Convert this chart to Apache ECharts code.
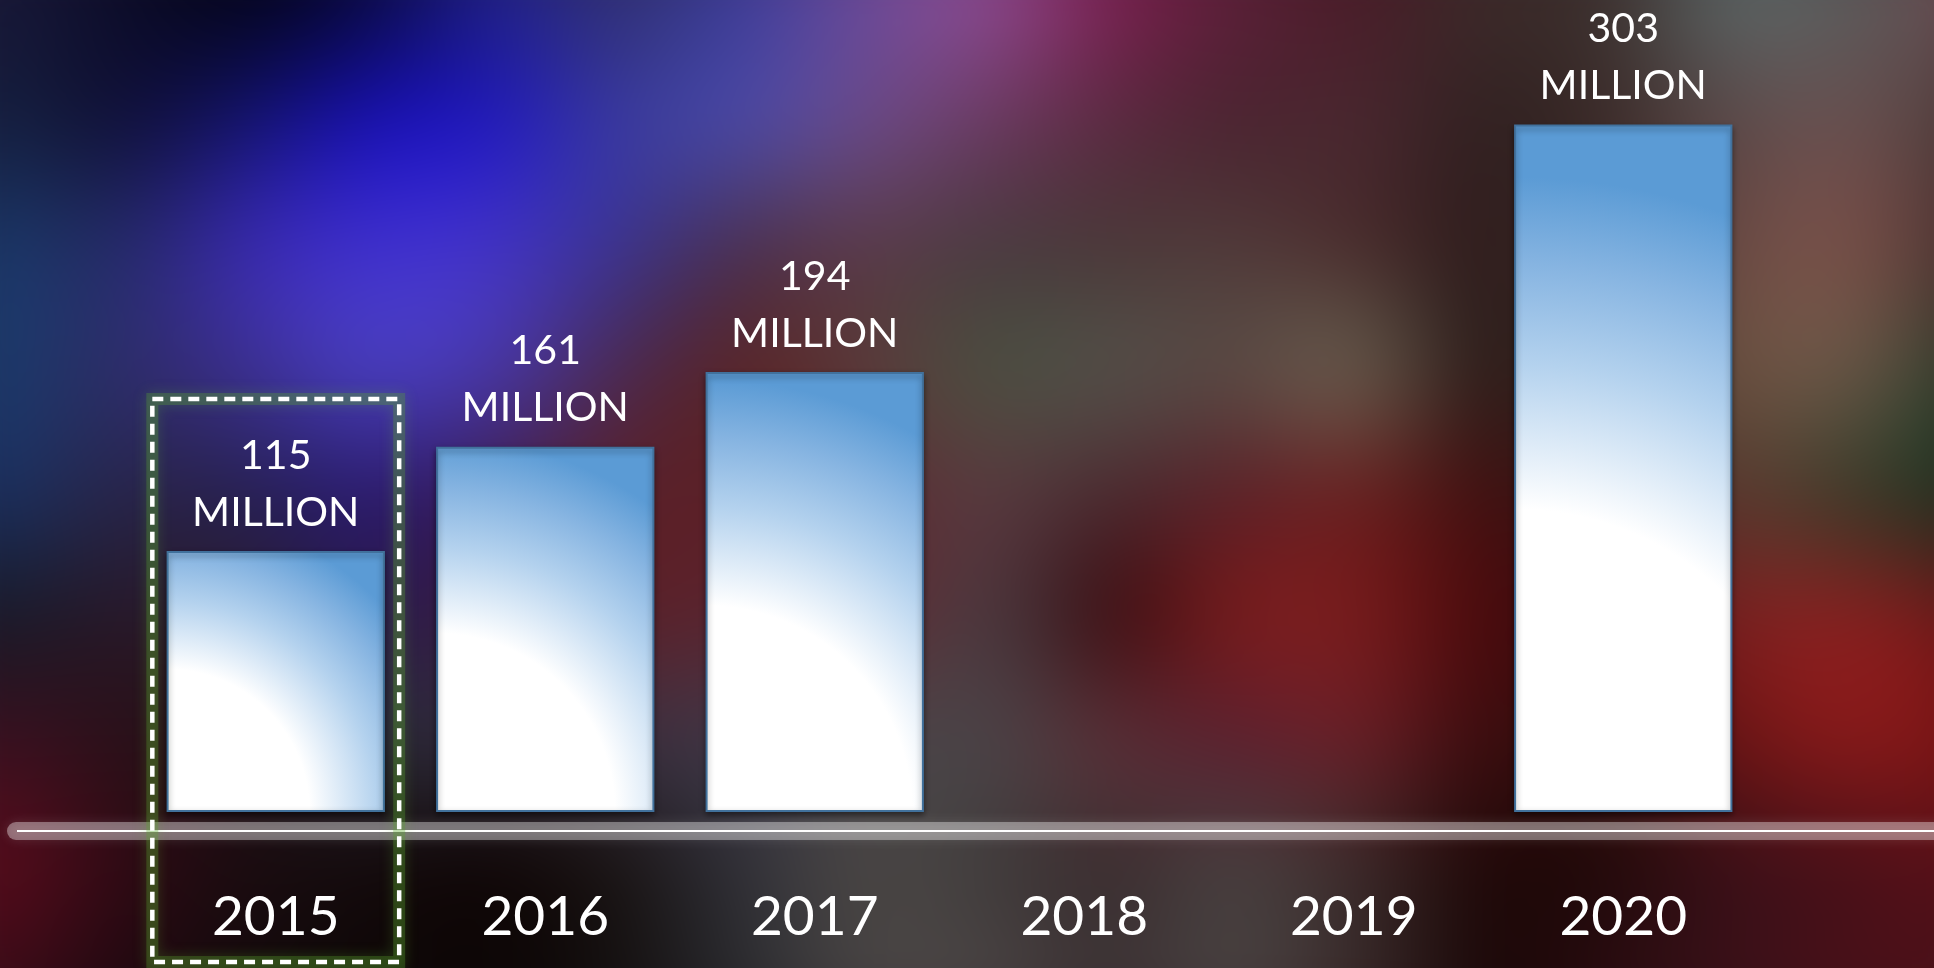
<!DOCTYPE html>
<html>
<head>
<meta charset="utf-8">
<script src="https://cdn.jsdelivr.net/npm/echarts@6/dist/echarts.min.js"></script>
<style>
  html, body { margin: 0; padding: 0; width: 1934px; height: 968px; overflow: hidden; background: #3a2428; }
  #bg { position: absolute; left: -60px; top: -60px; width: 2054px; height: 1088px; filter: blur(34px); }
  #chart { position: absolute; left: 0; top: 0; width: 1934px; height: 968px; }
</style>
</head>
<body>
<canvas id="bg" width="2054" height="1088"></canvas>
<div id="chart"></div>
<script>
// Yearly figures, in millions
const years = ['2015', '2016', '2017', '2018', '2019', '2020'];
const users = [115, 161, 194, null, null, 303];
const unitLabel = 'MILLION';
const highlightYear = '2015';

// Blurred photo backdrop: a coarse colour grid (one sample every ~123 px),
// smoothly upscaled and softened.
const bgRows = [
  ['#181838', '#0c0c28', '#04041a', '#0a0a45', '#20208a', '#303070', '#3c3c98', '#6a4a98', '#8c4a90', '#7a2050', '#5a2038', '#4a1c28', '#3c2a2a', '#3c302e', '#5a6464', '#5a5a5a', '#6a4a50'],
  ['#152040', '#101038', '#141470', '#1810b8', '#2018c0', '#3a3aa0', '#4a4aa8', '#6a4a88', '#6a3a60', '#5a2a40', '#4a2430', '#4a2830', '#302020', '#3a2a28', '#5a4848', '#6a5050', '#4a3a38'],
  ['#1a3868', '#262a68', '#3a2ab0', '#4030d0', '#4434c8', '#3a3490', '#4a3050', '#5a3a48', '#4a3a40', '#4a3838', '#503a3a', '#4a2c2c', '#2e1c1c', '#402a28', '#6a4a44', '#7a5048', '#4a3030'],
  ['#1a3a6a', '#2e2c68', '#3c3090', '#4a40c0', '#4838a8', '#4a2a50', '#5a2424', '#5a3a3a', '#4a5040', '#54504a', '#5a4a44', '#6a6050', '#2a1a18', '#403028', '#6a5040', '#6a5848', '#2a3a28'],
  ['#1a3060', '#282448', '#262050', '#2a1a70', '#3a1c50', '#5a2028', '#5a2028', '#5a2a30', '#5a3a40', '#4a2a30', '#5a2028', '#6a2020', '#401010', '#3a1818', '#5a3a30', '#3a3a28', '#1a3020'],
  ['#181a28', '#281828', '#2a1c30', '#2a1a50', '#3a1c38', '#5a2028', '#5a2430', '#602830', '#4a3a40', '#3a0c10', '#7a1c1c', '#7a1c1c', '#4a0a0c', '#400c10', '#7a2020', '#8a2020', '#6a1818'],
  ['#3a1020', '#2a1018', '#201018', '#2a2a38', '#302a38', '#3a3040', '#403848', '#4a4448', '#4a4448', '#5a3038', '#5a2030', '#6a2028', '#3a0c0e', '#3a1010', '#6a1414', '#8a1a1a', '#7a1414'],
  ['#5a0c1c', '#300a14', '#1a0c10', '#140a0c', '#100606', '#1a1414', '#303038', '#4a4644', '#403c3c', '#3a2c2e', '#484040', '#3a2a2a', '#200808', '#200a0a', '#3a1018', '#4a1018', '#5a1018'],
  ['#3a0c18', '#200810', '#140a0c', '#0e0808', '#0c0606', '#141010', '#2a2a2e', '#484444', '#4a4444', '#3c3234', '#4a4242', '#3a2a2a', '#1a0808', '#2a0c10', '#3a1018', '#4a1018', '#4a1018']
];

(function paintBackdrop() {
  const cols = bgRows[0].length, rows = bgRows.length;
  const small = document.createElement('canvas');
  small.width = cols; small.height = rows;
  const sctx = small.getContext('2d');
  bgRows.forEach((row, j) => row.forEach((c, i) => { sctx.fillStyle = c; sctx.fillRect(i, j, 1, 1); }));
  const big = document.getElementById('bg');
  const ctx = big.getContext('2d');
  const step = 1934 / 1568 * 100;
  ctx.imageSmoothingEnabled = true;
  ctx.imageSmoothingQuality = 'high';
  ctx.fillStyle = '#3a2428';
  ctx.fillRect(0, 0, big.width, big.height);
  ctx.drawImage(small, 60 - step / 2, 60 - step / 2, cols * step, rows * step);
})();

const chart = echarts.init(document.getElementById('chart'), null, { renderer: 'canvas' });

const option = {
  backgroundColor: 'transparent',
  animation: false,
  grid: { left: 141, right: 176, top: 18, bottom: 156 },
  xAxis: {
    type: 'category',
    data: years,
    axisLine: { show: false },
    axisTick: { show: false },
    axisLabel: { color: '#ffffff', fontSize: 55, fontFamily: 'Lato', margin: 78 }
  },
  yAxis: { type: 'value', min: 0, max: 350, show: false },
  series: [{
    type: 'bar',
    data: users,
    barWidth: '81%',
    itemStyle: {
      color: '#5B9BD5',
      borderColor: '#41719C',
      borderWidth: 2,
      shadowBlur: 6,
      shadowColor: 'rgba(0,0,0,0.45)',
      shadowOffsetY: 3
    },
    label: {
      show: true,
      position: 'top',
      distance: 10,
      formatter: p => p.value + '\n' + unitLabel,
      color: '#ffffff',
      fontSize: 41,
      lineHeight: 57,
      fontFamily: 'Lato'
    }
  }]
};
chart.setOption(option);

// Second pass: radial fill anchored at each bar's bottom-left corner,
// sized to reach its top-right corner, plus the baseline and highlight frame.
const px = (i, v) => chart.convertToPixel({ seriesIndex: 0 }, [i, v]);
const band = px(1, 0)[0] - px(0, 0)[0];
const barW = band * 0.81;

const styledData = users.map((v, i) => {
  if (v == null) return null;
  const h = Math.abs(px(i, 0)[1] - px(i, v)[1]);
  const r = Math.hypot(barW, h) / Math.min(barW, h);
  return {
    value: v,
    itemStyle: {
      color: {
        type: 'radial', x: 0, y: 1, r: r,
        colorStops: [
          { offset: 0, color: '#ffffff' },
          { offset: 0.42, color: '#ffffff' },
          { offset: 0.62, color: '#b4d2ee' },
          { offset: 0.76, color: '#86b4e1' },
          { offset: 0.88, color: '#5b9bd5' },
          { offset: 1, color: '#5b9bd5' }
        ]
      }
    }
  };
});

const baseY = px(0, 0)[1];
const lineY = baseY + 19;
const hx = px(years.indexOf(highlightYear), 0)[0];
const halfW = band * 0.458;
const frame = { x: hx - halfW, y: 399, width: 2 * halfW, height: 563 };

chart.setOption({
  series: [{ data: styledData }],
  graphic: [
    {
      type: 'line', z: 50,
      shape: { x1: 16, y1: lineY, x2: 1960, y2: lineY },
      style: { stroke: 'rgba(255,255,255,0.36)', lineWidth: 18, lineCap: 'round', shadowBlur: 12, shadowColor: 'rgba(255,255,255,0.35)' }
    },
    {
      type: 'line', z: 51,
      shape: { x1: 17, y1: lineY, x2: 1960, y2: lineY },
      style: { stroke: '#ffffff', lineWidth: 2 }
    },
    {
      type: 'rect', z: 52,
      shape: frame,
      style: { fill: null, stroke: 'rgba(90,165,45,0.3)', lineWidth: 12, shadowBlur: 14, shadowColor: 'rgba(100,190,50,0.75)' }
    },
    {
      type: 'rect', z: 53,
      shape: frame,
      style: { fill: null, stroke: '#ffffff', lineWidth: 4.5, lineDash: [11, 7] }
    }
  ]
});
</script>
</body>
</html>
